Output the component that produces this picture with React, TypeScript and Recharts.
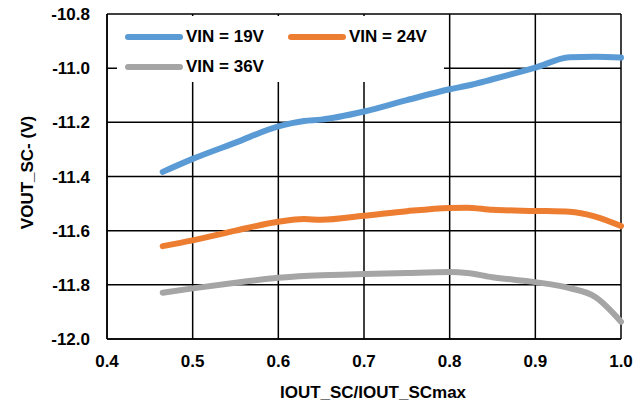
import React from 'react';
import { LineChart, Line, XAxis, YAxis, CartesianGrid, Legend, Label } from 'recharts';

// valores
const iRatio = [0.465, 0.5, 0.55, 0.6, 0.63, 0.65, 0.7, 0.75, 0.8, 0.82, 0.85, 0.9, 0.94, 0.97, 1.0];
const vin19 = [-11.383, -11.335, -11.275, -11.215, -11.195, -11.19, -11.16, -11.118, -11.078, -11.065, -11.041, -10.998, -10.96, -10.958, -10.961];
const vin24 = [-11.657, -11.636, -11.6, -11.567, -11.557, -11.56, -11.545, -11.528, -11.516, -11.515, -11.523, -11.527, -11.53, -11.548, -11.583];
const vin36 = [-11.829, -11.813, -11.792, -11.774, -11.767, -11.765, -11.76, -11.756, -11.753, -11.756, -11.772, -11.79, -11.812, -11.845, -11.936];

const xTicks = [0.4, 0.5, 0.6, 0.7, 0.8, 0.9, 1.0];
const yTicks = [-12.0, -11.8, -11.6, -11.4, -11.2, -11.0, -10.8];

const FONT = '"Liberation Sans", Arial, sans-serif';

const data = iRatio.map((x, i) => ({ x, v19: vin19[i], v24: vin24[i], v36: vin36[i] }));

const LegendBox = ({ payload }: any) => {
  const items = payload || [];
  const pos = [
    { left: 8, top: 21 },
    { left: 171, top: 21 },
    { left: 8, top: 51 },
  ];
  return (
    <div style={{ position: 'relative', width: 327, height: 66, background: '#fff' }}>
      {items.map((it: any, i: number) => (
        <div
          key={it.value}
          style={{ position: 'absolute', left: pos[i].left, top: pos[i].top - 11, display: 'flex', alignItems: 'center', height: 22 }}
        >
          <div style={{ width: 58, height: 6, borderRadius: 3, background: it.color, marginRight: 3 }} />
          <span style={{ fontFamily: FONT, fontWeight: 'bold', fontSize: 17, color: '#000' }}>{it.value}</span>
        </div>
      ))}
    </div>
  );
};

export default function App() {
  return (
    <div style={{ position: 'absolute', left: 0, top: 0, background: '#fff' }}>
      <LineChart width={642} height={402} data={data} margin={{ top: 14, right: 21, left: 0, bottom: 0 }}>
        <CartesianGrid stroke="#000" strokeWidth={1.5} horizontalValues={yTicks} verticalValues={xTicks} />
        <XAxis
          dataKey="x"
          type="number"
          domain={[0.4, 1.0]}
          ticks={xTicks}
          tickFormatter={(v: number) => v.toFixed(1)}
          height={63}
          axisLine={{ stroke: '#000', strokeWidth: 1.5 }}
          tickLine={false}
          tickSize={0}
          tickMargin={16}
          tick={{ fill: '#000', fontFamily: FONT, fontWeight: 'bold', fontSize: 17 }}
        >
          <Label
            content={({ viewBox }: any) => (
              <text
                x={viewBox.x + viewBox.width / 2 + 9}
                y={viewBox.y + 59}
                textAnchor="middle"
                fill="#000"
                fontFamily={FONT}
                fontWeight="bold"
                fontSize={17}
              >
                IOUT_SC/IOUT_SCmax
              </text>
            )}
          />
        </XAxis>
        <XAxis
          xAxisId="top"
          orientation="top"
          dataKey="x"
          type="number"
          domain={[0.4, 1.0]}
          ticks={xTicks}
          height={0}
          axisLine={false}
          tick={() => <g />}
          tickSize={6}
          tickLine={{ stroke: '#000', strokeWidth: 1.5 }}
        />
        <YAxis
          type="number"
          domain={[-12, -10.8]}
          ticks={yTicks}
          tickFormatter={(v: number) => v.toFixed(1)}
          width={107}
          axisLine={{ stroke: '#000', strokeWidth: 1.5 }}
          tickLine={false}
          tickSize={0}
          tickMargin={17}
          tick={{ fill: '#000', fontFamily: FONT, fontWeight: 'bold', fontSize: 17 }}
          allowDataOverflow
        >
          <Label
            content={({ viewBox }: any) => {
              const cx = 27;
              const cy = viewBox.y + viewBox.height / 2 - 4;
              return (
                <text
                  x={cx}
                  y={cy}
                  transform={`rotate(-90 ${cx} ${cy})`}
                  textAnchor="middle"
                  dominantBaseline="central"
                  fill="#000"
                  fontFamily={FONT}
                  fontWeight="bold"
                  fontSize={17}
                >
                  VOUT_SC- (V)
                </text>
              );
            }}
          />
        </YAxis>
        <Legend
          layout="vertical"
          align="center"
          verticalAlign="middle"
          content={<LegendBox />}
          wrapperStyle={{ left: 117, top: 16, width: 327, height: 66 }}
        />
        <Line name="VIN = 19V" dataKey="v19" type="monotone" stroke="#5B9BD5" strokeWidth={6} strokeLinecap="round" dot={false} isAnimationActive={false} />
        <Line name="VIN = 24V" dataKey="v24" type="monotone" stroke="#ED7D31" strokeWidth={6} strokeLinecap="round" dot={false} isAnimationActive={false} />
        <Line name="VIN = 36V" dataKey="v36" type="monotone" stroke="#A5A5A5" strokeWidth={6} strokeLinecap="round" dot={false} isAnimationActive={false} />
      </LineChart>
    </div>
  );
}
